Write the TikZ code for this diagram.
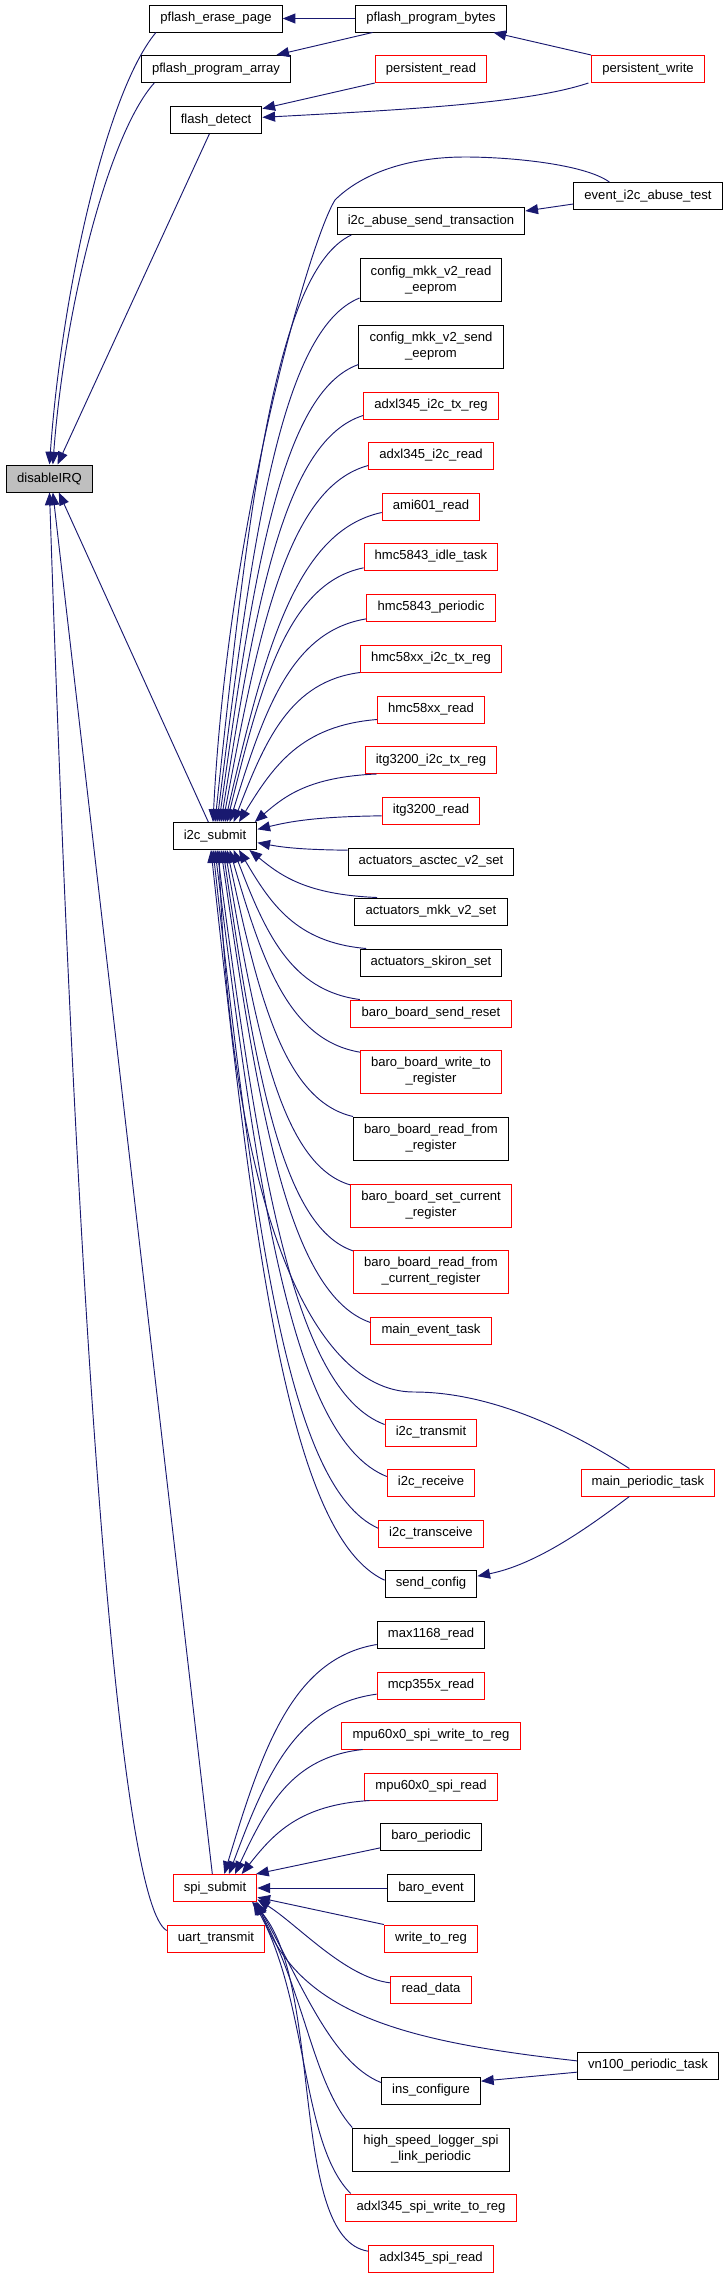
\documentclass[tikz,border=0pt]{standalone}
\usepackage{fontspec}
\setmainfont{Liberation Sans}
\usetikzlibrary{arrows.meta,calc}
\definecolor{EdgeBlue}{RGB}{25,25,112}
\definecolor{BoxRed}{RGB}{255,0,0}
\definecolor{RootGrey}{RGB}{191,191,191}

\begin{document}
\begin{tikzpicture}[x=0.75pt,y=-0.75pt,>={Triangle[length=9.5pt,width=7.5pt]},
      fn/.style={draw=black,line width=0.75pt,inner xsep=8pt,inner ysep=0pt,
                 minimum height=20.25pt,align=center,font=\fontsize{9.8}{12}\selectfont},
      rn/.style={fn,draw=BoxRed},
      tall/.style={minimum height=32.25pt},
      root/.style={fn,fill=RootGrey},
      ar/.style={->,draw=EdgeBlue,line width=0.7pt}]
    \useasboundingbox (0,0) rectangle (725,2277);
    % callee
    \node[root] (dis) at (49.5,478.5) {disableIRQ};
    % direct callers
    \node[fn] (pep) at (216,18.5) {pflash\_erase\_page};
    \node[fn] (ppa) at (216,69) {pflash\_program\_array};
    \node[fn] (fd) at (216,120) {flash\_detect};
    \node[fn] (i2c) at (215,836) {i2c\_submit};
    \node[rn] (spi) at (215,1888) {spi\_submit};
    \node[rn] (uart) at (216,1938.5) {uart\_transmit};
    % second column
    \node[fn] (ppb) at (431,18.5) {pflash\_program\_bytes};
    \node[rn] (prd) at (431,69) {persistent\_read};
    \node[fn] (iast) at (431,221) {i2c\_abuse\_send\_transaction};
    \node[fn,tall] (cmr) at (431,280) {config\_mkk\_v2\_read\\\_eeprom};
    \node[fn,tall] (cms) at (431,346.5) {config\_mkk\_v2\_send\\\_eeprom};
    \node[rn] (atx) at (431,405.5) {adxl345\_i2c\_tx\_reg};
    \node[rn] (ard) at (431,455.5) {adxl345\_i2c\_read};
    \node[rn] (ami) at (431,506.5) {ami601\_read};
    \node[rn] (hit) at (431,556.5) {hmc5843\_idle\_task};
    \node[rn] (hpe) at (431,607.5) {hmc5843\_periodic};
    \node[rn] (hxt) at (431,658.5) {hmc58xx\_i2c\_tx\_reg};
    \node[rn] (hxr) at (431,709.5) {hmc58xx\_read};
    \node[rn] (itx) at (431,760) {itg3200\_i2c\_tx\_reg};
    \node[rn] (ird) at (431,810.5) {itg3200\_read};
    \node[fn] (aas) at (431,861.5) {actuators\_asctec\_v2\_set};
    \node[fn] (amk) at (431,911.5) {actuators\_mkk\_v2\_set};
    \node[fn] (ask) at (431,962.5) {actuators\_skiron\_set};
    \node[rn] (bsr) at (431,1013.5) {baro\_board\_send\_reset};
    \node[rn,tall] (bwr) at (431,1071.5) {baro\_board\_write\_to\\\_register};
    \node[fn,tall] (brr) at (431,1138.5) {baro\_board\_read\_from\\\_register};
    \node[rn,tall] (bsc) at (431,1205.5) {baro\_board\_set\_current\\\_register};
    \node[rn,tall] (brc) at (431,1271.5) {baro\_board\_read\_from\\\_current\_register};
    \node[rn] (met) at (431,1330.5) {main\_event\_task};
    \node[rn] (itr) at (431,1432.5) {i2c\_transmit};
    \node[rn] (irc) at (431,1482.5) {i2c\_receive};
    \node[rn] (itc) at (431,1533.5) {i2c\_transceive};
    \node[fn] (scf) at (431,1583.5) {send\_config};
    \node[fn] (mx) at (431,1634.5) {max1168\_read};
    \node[rn] (mcp) at (431,1685.5) {mcp355x\_read};
    \node[rn] (mwr) at (431,1735.5) {mpu60x0\_spi\_write\_to\_reg};
    \node[rn] (mrd) at (431,1786.5) {mpu60x0\_spi\_read};
    \node[fn] (bp) at (431,1836.5) {baro\_periodic};
    \node[fn] (be) at (431,1888) {baro\_event};
    \node[rn] (wtr) at (431,1938.5) {write\_to\_reg};
    \node[rn] (rd) at (431,1989.5) {read\_data};
    \node[fn] (ins) at (431,2090.5) {ins\_configure};
    \node[fn,tall] (hsl) at (431,2149.5) {high\_speed\_logger\_spi\\\_link\_periodic};
    \node[rn] (asw) at (431,2207.5) {adxl345\_spi\_write\_to\_reg};
    \node[rn] (asr) at (431,2258.5) {adxl345\_spi\_read};
    % third column
    \node[rn] (pw) at (648,69) {persistent\_write};
    \node[fn] (eiat) at (648,196) {event\_i2c\_abuse\_test};
    \node[rn] (mpt) at (648,1482.5) {main\_periodic\_task};
    \node[fn] (vn) at (648,2065.5) {vn100\_periodic\_task};

    % into disableIRQ
    \draw[ar] ([xshift=5pt]pep.south west) .. controls +(-50,60) and +(12,-170) .. (dis.north);
    \draw[ar] ([xshift=10pt]ppa.south west) .. controls +(-45,50) and +(12,-160) .. ([xshift=2.5pt]dis.north);
    \draw[ar] ([xshift=-5pt]fd.south) -- ([xshift=6pt]dis.north);
    \draw[ar] ([xshift=-5pt]i2c.north) -- ([xshift=7pt]dis.south);
    \draw[ar] ([xshift=-2pt]spi.north) -- ([xshift=2.5pt]dis.south);
    \draw[ar] ([yshift=6pt]uart.west) .. controls +(-45,-25) and +(30,900) .. (dis.south);
    % flash chain
    \draw[ar] (ppb.west) -- (pep.east);
    \draw[ar] ([xshift=13pt]ppb.south west) -- ([xshift=-11pt]ppa.north east);
    \draw[ar] (pw.north west) -- ([xshift=-10pt]ppb.south east);
    \draw[ar] (prd.south west) -- ([yshift=-2pt]fd.north east);
    \draw[ar] ([xshift=-2pt]pw.south west) .. controls +(-60,20) and +(150,-8) .. ([yshift=2pt]fd.east);
    % i2c and spi callers
    \draw[ar] ([yshift=-6pt]eiat.west) -- ([yshift=7.5pt]iast.east);
    \draw[ar] ([xshift=-29pt]eiat.north) .. controls +(-25,-18) and +(45,0) .. (465,157)
      .. controls +(-60,0) and +(25,-25) .. (335,200)
      .. controls +(-25,40) and +(15,-300) .. ([xshift=-1.5pt]i2c.north);
    \foreach \src/\sa/\sx/\sy/\dst/\da/\ex/\ey in {
        iast/south west/11/0/i2c/north/0/0,
        cmr/south west/0/3/i2c/north/1.5/0,
        cms/south west/0/3/i2c/north/3/0,
        atx/south west/0/3/i2c/north/4.5/0,
        ard/south west/0/3/i2c/north/6/0,
        ami/south west/0/6/i2c/north/7.5/0,
        hit/south west/0/2/i2c/north/9/0,
        hpe/south west/0/2/i2c/north/11/0,
        hxt/south west/0/0/i2c/north/14/0,
        hxr/south west/0/3/i2c/north/18/0,
        itx/south west/9/0/i2c/north east/-2/0,
        ird/west/0/-4/i2c/east/0/5,
        aas/north west/0/-2/i2c/east/0/-5,
        amk/north west/17/0/i2c/south east/-6/0,
        ask/north west/5/0/i2c/south/18/0,
        bsr/north west/7/0/i2c/south/14/0,
        bwr/north west/0/-2/i2c/south/11/0,
        brr/north west/0/0/i2c/south/9/0,
        bsc/north west/0/-1/i2c/south/7.5/0,
        brc/north west/0/-1/i2c/south/6/0,
        met/north west/0/-4.5/i2c/south/4.5/0,
        itr/north west/0/-4.5/i2c/south/1.5/0,
        irc/north west/0/-6/i2c/south/0/0,
        itc/north west/0/-6.5/i2c/south/-1.5/0,
        scf/north west/0/-8/i2c/south/-3/0,
        mx/south west/0/3/spi/north/7/0,
        mcp/south west/0/4/spi/north/10.5/0,
        mwr/south west/16/0/spi/north/15/0,
        mrd/south west/4/0/spi/north/20/0}
      \draw[ar] let \p1=([xshift=\sx pt,yshift=\sy pt]\src.\sa),
                    \p2=([xshift=\ex pt,yshift=\ey pt]\dst.\da) in (\p1)
        .. controls ({\x1-0.55*(\x1-\x2)},{\y1+0.06*(\y2-\y1)})
        and ({\x2+0.25*(\x1-\x2)},{\y2-0.55*(\y2-\y1)}) .. (\p2);
    \draw[ar] ([xshift=-14pt]mpt.north) .. controls +(-70,-45) and +(70,0) .. (414,1392)
      .. controls +(-110,0) and +(10,330) .. ([xshift=3pt]i2c.south);
    \draw[ar] ([xshift=-14pt]mpt.south) .. controls +(-40,30) and +(60,-12) .. ([yshift=5.5pt]scf.east);
    \draw[ar] ([yshift=2pt]bp.south west) -- ([xshift=-1pt]spi.north east);
    \draw[ar] (be.west) -- (spi.east);
    \draw[ar] (wtr.north west) -- ([yshift=-7pt]spi.east);
    \draw[ar] ([yshift=5pt]rd.west) .. controls +(-45,-5) and +(40,25) .. ([yshift=2pt]spi.south east);
    \draw[ar] ([yshift=3.5pt]vn.west) .. controls +(-180,-20) and +(40,110) .. (spi.south east);
    \draw[ar] ([yshift=6pt]ins.west) .. controls +(-50,-20) and +(45,80) .. ([xshift=-1pt]spi.south east);
    \draw[ar] (hsl.north west) .. controls +(-40,-45) and +(50,90) .. ([xshift=-2pt]spi.south east);
    \draw[ar] ([xshift=4pt]asw.north west) .. controls +(-50,-50) and +(55,100) .. ([xshift=-3pt]spi.south east);
    \draw[ar] ([yshift=-5pt]asr.north west) .. controls +(-80,-12) and +(72,79) .. ([xshift=-4pt]spi.south east);
    \draw[ar] ([yshift=-5pt]vn.west) -- ([yshift=7pt]ins.east);
\end{tikzpicture}
\end{document}
